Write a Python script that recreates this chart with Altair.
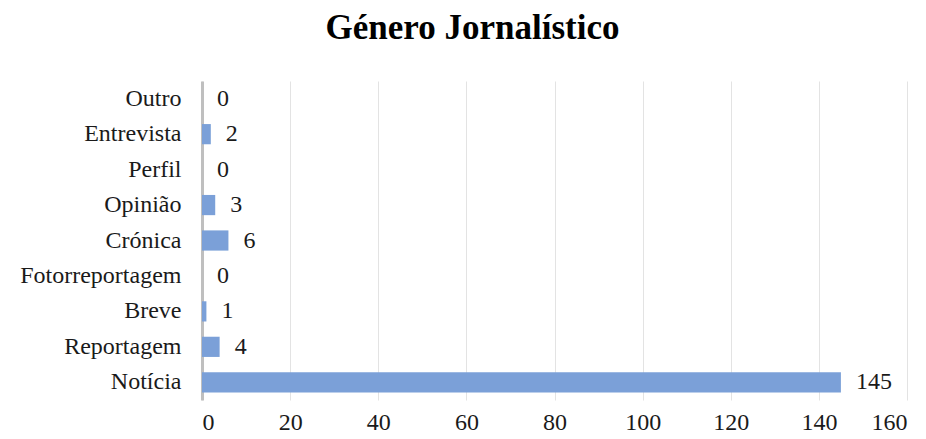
import altair as alt
import pandas as pd

# Journalistic genre counts
generos = ["Outro", "Entrevista", "Perfil", "Opinião", "Crónica",
           "Fotorreportagem", "Breve", "Reportagem", "Notícia"]
contagens = [0, 2, 0, 3, 6, 0, 1, 4, 145]
x_ticks = [0, 20, 40, 60, 80, 100, 120, 140, 160]

df = pd.DataFrame({"genero": generos, "n": contagens})

FONT = "Liberation Serif"
BAR = "#7ba0d8"
TXT = "#1a1a1a"
FS = 24

x = alt.X("n:Q",
          scale=alt.Scale(domain=[0, 160], nice=False, zero=True),
          axis=alt.Axis(values=x_ticks, title=None, grid=True, gridColor="#e3e3e3",
                        gridWidth=1, domain=False, ticks=False, labelPadding=10,
                        labelFont=FONT, labelFontSize=FS, labelColor=TXT))
y = alt.Y("genero:N", sort=generos,
          scale=alt.Scale(paddingInner=0.43, paddingOuter=0.215),
          axis=alt.Axis(title=None, domain=True, domainColor="#bfbfbf", domainWidth=3,
                        ticks=False, grid=False, labelPadding=21,
                        labelFont=FONT, labelFontSize=FS, labelColor=TXT))

bars = alt.Chart(df).mark_bar(color=BAR).encode(x=x, y=y)
labels = alt.Chart(df).mark_text(align="left", baseline="middle", dx=15,
                                 font=FONT, fontSize=FS, color=TXT).encode(
    x="n:Q", y=alt.Y("genero:N", sort=generos), text="n:Q")

chart = (bars + labels).properties(
    width=705, height=319,
    title=alt.TitleParams("Género Jornalístico", font=FONT, fontSize=35,
                          fontWeight="bold", color="#000000", anchor="middle",
                          dx=-82, offset=35),
    autosize=alt.AutoSizeParams(type="none"),
    padding={"left": 202, "top": 81, "right": 19, "bottom": 39},
).configure_view(stroke=None)

chart.save("out.html", embed_options={"renderer": "svg", "actions": False})
